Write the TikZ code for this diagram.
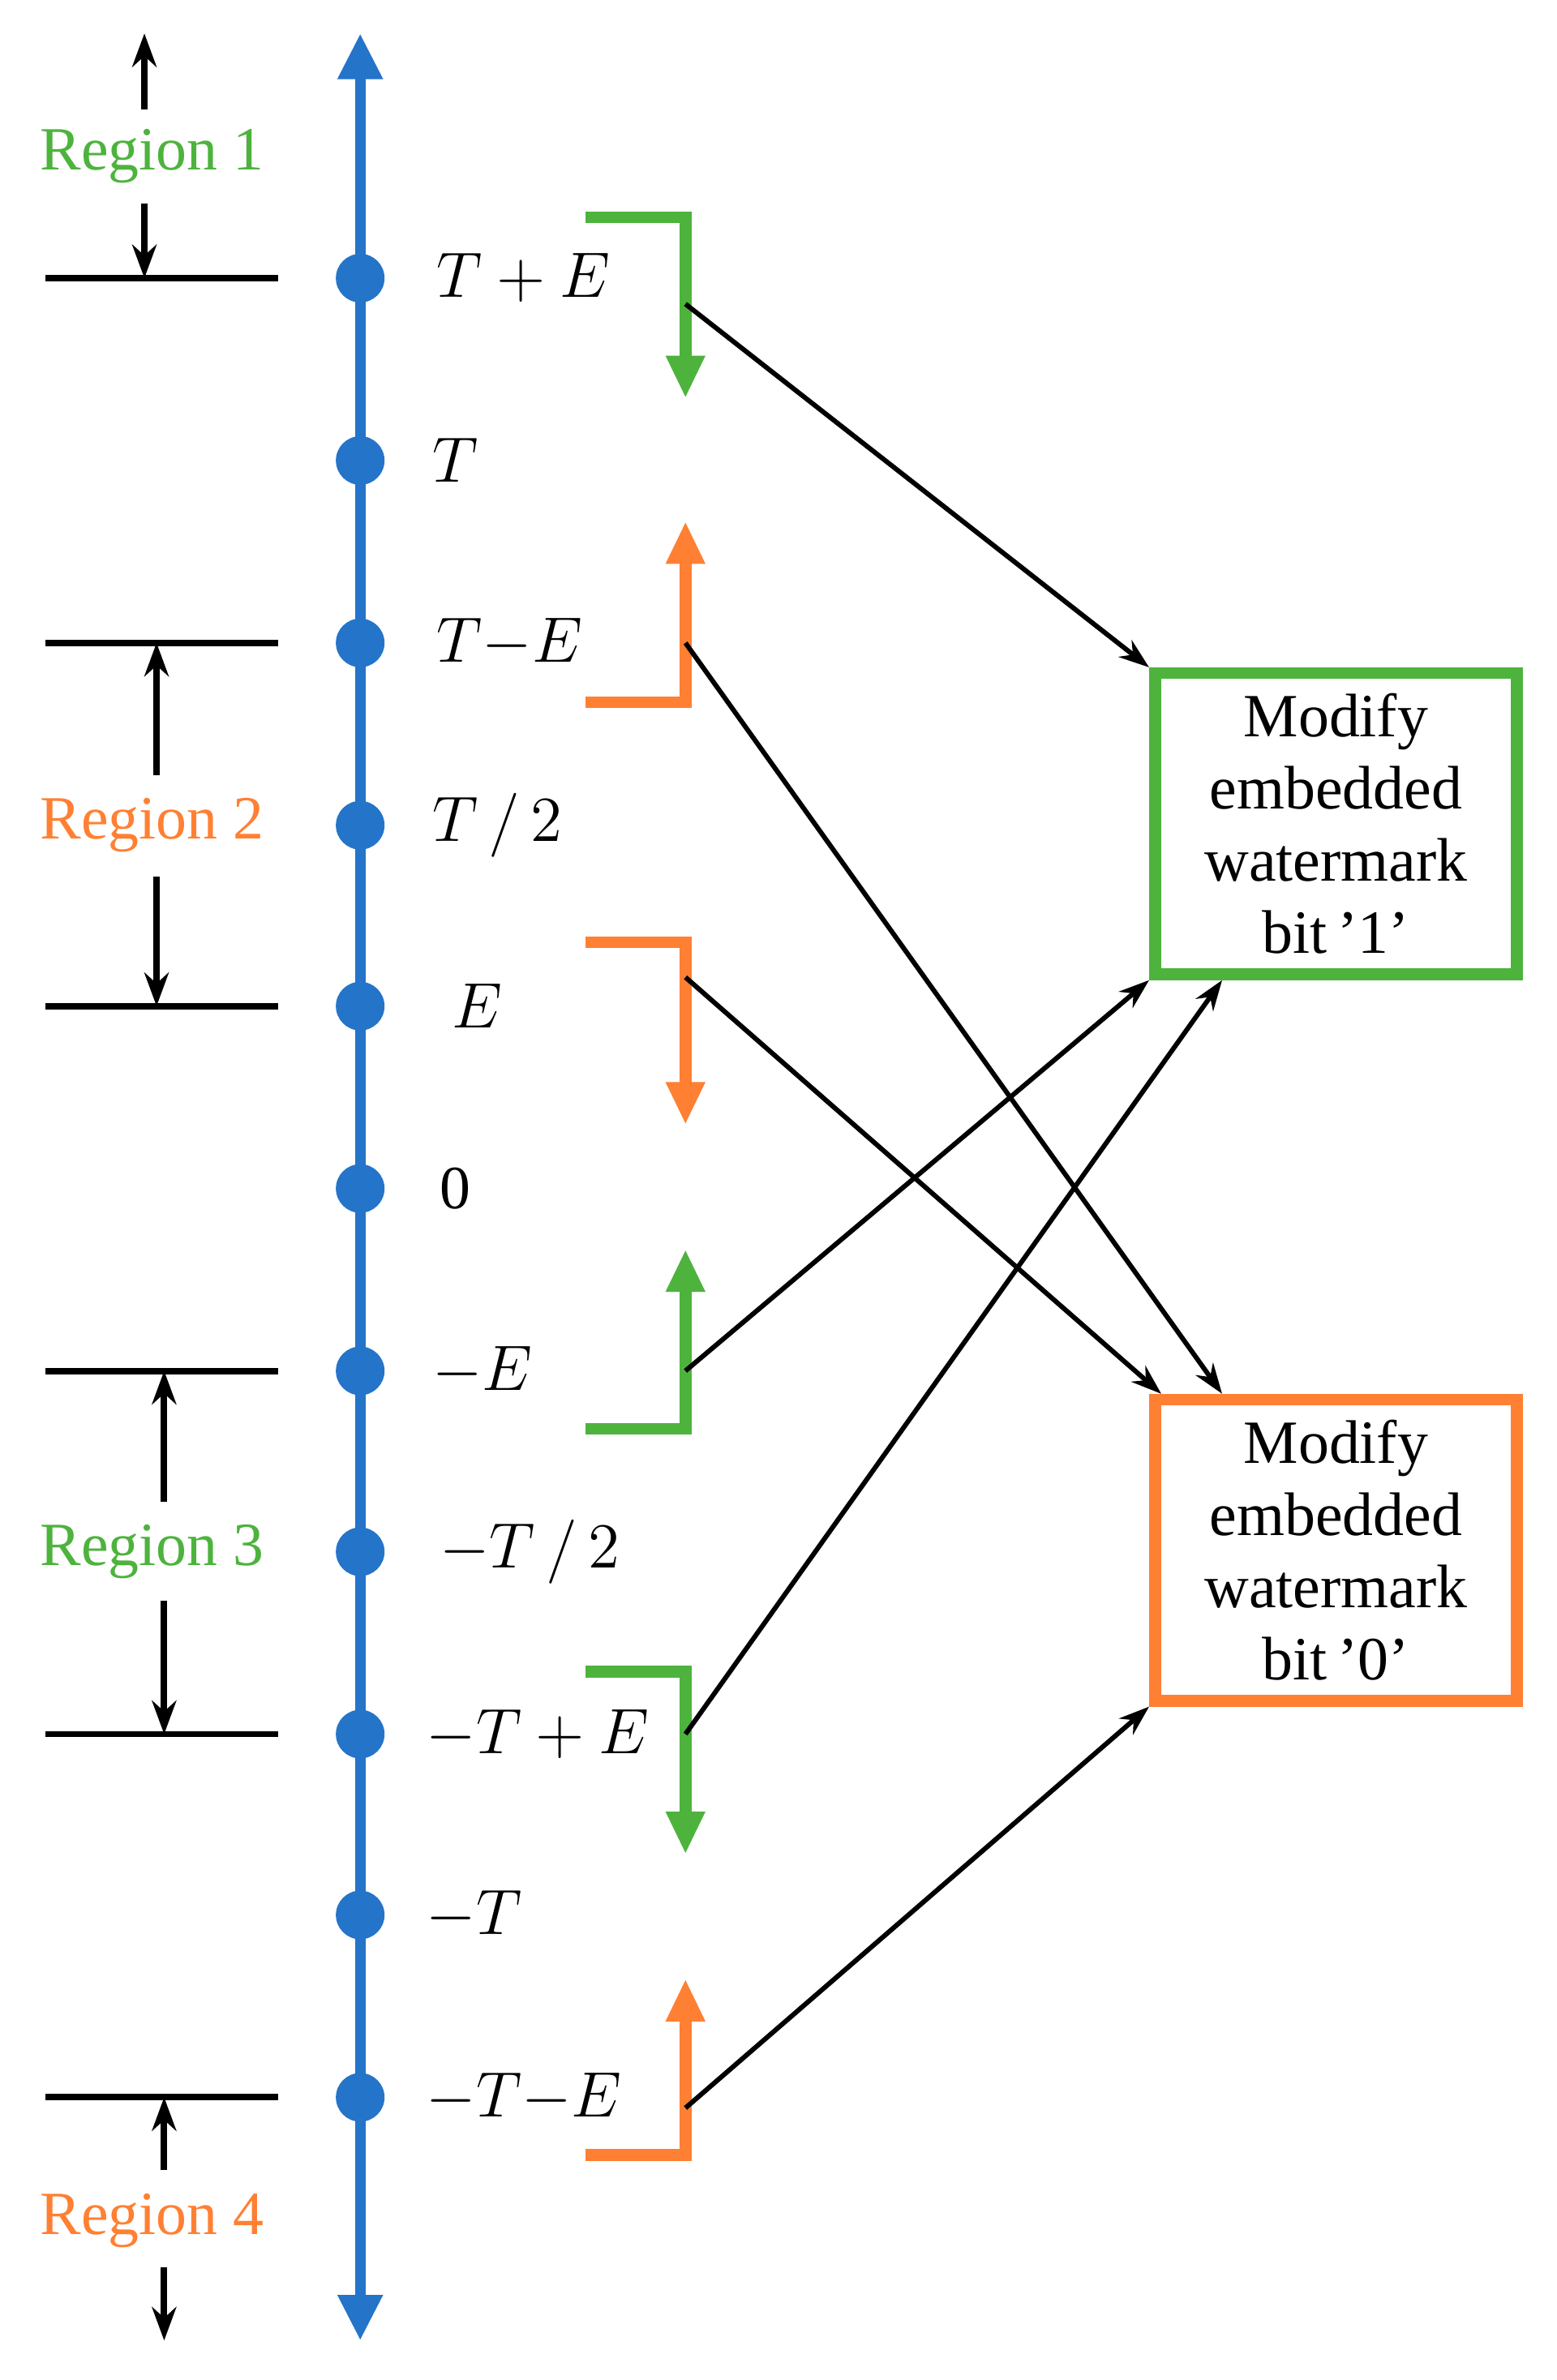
\documentclass[tikz,border=0pt]{standalone}
\usepackage{fontspec}
\setmainfont{Liberation Serif}
\usetikzlibrary{arrows.meta}
\definecolor{ax}{HTML}{2474C9}
\definecolor{gr}{HTML}{4DB33D}
\definecolor{og}{HTML}{FF8033}
\begin{document}
\begin{tikzpicture}[x=0.01cm,y=-0.01cm,
  lab/.style={anchor=west,font=\fontsize{11.5}{14}\selectfont},
  reg/.style={font=\fontsize{11.5}{14}\selectfont},
  dot/.style={circle,fill=ax,inner sep=0,minimum size=0.32cm},
  hl/.style={line width=1.2pt},
  ra/.style={line width=1.2pt,-{Stealth[length=0.22cm,width=0.16cm]}},
  br/.style={line width=2.2pt,-{Triangle[length=0.28cm,width=0.24cm]}},
  ba/.style={line width=0.9pt,-{Stealth[length=0.2cm,width=0.14cm]}},
  box/.style={draw,line width=2.2pt,minimum width=2.38cm,minimum height=1.98cm,align=center,font=\fontsize{11.5}{13.5}\selectfont}]
\useasboundingbox (0,0) rectangle (1024,1566);
\coordinate (top) at (237,22); \coordinate (bot) at (237,1540);
\draw[line width=2pt,ax,{Triangle[length=0.3cm,width=0.28cm]}-{Triangle[length=0.3cm,width=0.28cm]}] (top)--(bot);
\foreach \n/\y/\t/\dx in {a/183/{$T+E$}/275,b/303/{$T$}/272,c/423/{$T{-}E$}/275,d/543/{$T\,/\,2$}/272,e/662/{$E$}/285,f/782/{0}/277,g/902/{${-}E$}/272,h/1021/{${-}T\,/\,2$}/277,i/1141/{${-}T+E$}/268,j/1260/{${-}T$}/268,k/1380/{${-}T{-}E$}/268}{
  \node[dot] (\n) at (237,\y) {};
  \node[lab] (t\n) at (\dx,\y) {\t};
}
\foreach \y [count=\i] in {183,423,662,902,1141,1380}{
  \coordinate (hl\i a) at (30,\y); \coordinate (hl\i b) at (183,\y);
  \draw[hl] (hl\i a)--(hl\i b);
}
% regions
\node[reg,text=gr] (r1) at (100,103) {Region 1};
\node[reg,text=og] (r2) at (100,543) {Region 2};
\node[reg,text=gr] (r3) at (100,1021) {Region 3};
\node[reg,text=og] (r4) at (100,1461) {Region 4};
\draw[ra] (95,72)--(95,22); \draw[ra] (95,134)--(95,183);
\draw[ra] (103,510)--(103,423); \draw[ra] (103,577)--(103,662);
\draw[ra] (108,988)--(108,902); \draw[ra] (108,1053)--(108,1141);
\draw[ra] (108,1428)--(108,1380); \draw[ra] (108,1492)--(108,1540);
% brackets
\draw[br,gr] (385,143)--(451,143)--(451,262);
\draw[br,og] (385,462)--(451,462)--(451,343);
\draw[br,og] (385,620)--(451,620)--(451,740);
\draw[br,gr] (385,940)--(451,940)--(451,822);
\draw[br,gr] (385,1100)--(451,1100)--(451,1220);
\draw[br,og] (385,1418)--(451,1418)--(451,1302);
% boxes
\node[box,draw=gr] (b1) at (879,542) {Modify\\embedded\\watermark\\bit\,'1'};
\node[box,draw=og] (b0) at (879,1020) {Modify\\embedded\\watermark\\bit\,'0'};
\coordinate (s1) at (451,200); \coordinate (s2) at (451,423);
\coordinate (s3) at (451,643); \coordinate (s4) at (451,902);
\coordinate (s5) at (451,1141); \coordinate (s6) at (451,1387);
\draw[ba] (s1)--(b1.north west);
\draw[ba] (s2)--([xshift=0.48cm]b0.north west);
\draw[ba] (s3)--([xshift=0.08cm]b0.north west);
\draw[ba] (s4)--(b1.south west);
\draw[ba] (s5)--([xshift=0.48cm]b1.south west);
\draw[ba] (s6)--(b0.south west);
\end{tikzpicture}
\end{document}
